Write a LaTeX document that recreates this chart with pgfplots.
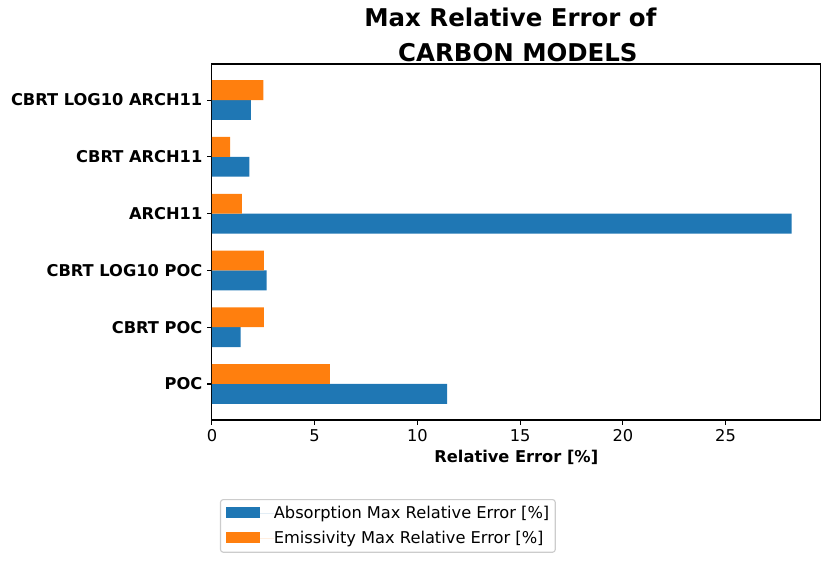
\documentclass[border=0pt]{standalone}
\usepackage{pgfplots}
\pgfplotsset{compat=1.18}
\usepackage{fontspec}
\setmainfont{DejaVu Sans}
\definecolor{tabblue}{HTML}{1F77B4}
\definecolor{taborange}{HTML}{FF7F0E}
\begin{document}
\begin{tikzpicture}
\useasboundingbox (-152.6pt,-102.2pt) rectangle (445.0pt,302.4pt);
\begin{axis}[
  at={(0pt,0pt)}, anchor=south west,
  scale only axis, width=438.3pt, height=256.3pt,
  xmin=0, xmax=29.63, ymin=-0.635, ymax=5.635,
  xbar, bar width=0.35,
  ytick={0,1,2,3,4,5},
  yticklabels={POC, CBRT POC, CBRT LOG10 POC, ARCH11, CBRT ARCH11, CBRT LOG10 ARCH11},
  xtick={0,5,10,15,20,25},
  tick align=outside, tick pos=left,
  major tick length=3.4pt,
  tick style={black, line width=0.8pt},
  axis line style={black, line width=0.8pt},
  /pgf/number format/assume math mode=true,
  xticklabel style={font=\fontsize{11.7}{14}\selectfont},
  yticklabel style={font=\fontsize{11.7}{14}\selectfont\bfseries},
  xlabel={Relative Error [\%]},
  xlabel style={at={(axis description cs:0.5,-0.1198)}, anchor=base, font=\fontsize{11.7}{14}\selectfont\bfseries},
  legend cell align=left,
  legend image code/.code={\fill[#1, draw=none, sharp corners] (0pt,-3.25pt) rectangle (24.5pt,4.65pt); \path (0pt,0pt) -- (34.1pt,0pt);},
  legend style={at={(0.01314,-0.2220)}, anchor=north west, draw=black!20, line width=0.8pt, rounded corners=2pt,
    inner xsep=4.3pt, inner ysep=5.1pt, row sep=7.87pt, column sep=0pt,
    font=\fontsize{11.7}{14}\selectfont,
    nodes={inner sep=0pt, text height=8.53pt, text depth=1.4pt}},
]
\addplot[fill=tabblue, draw=none, bar shift=-0.175] coordinates {(11.45,0) (1.40,1) (2.66,2) (28.22,3) (1.82,4) (1.90,5)};
\addplot[fill=taborange, draw=none, bar shift=0.175] coordinates {(5.74,0) (2.53,1) (2.53,2) (1.46,3) (0.89,4) (2.50,5)};
\legend{Absorption Max Relative Error [\%], Emissivity Max Relative Error [\%]}
\end{axis}
\node[anchor=base, font=\fontsize{17.6}{21}\selectfont\bfseries, inner sep=0pt] at (214.9pt,283.2pt) {Max Relative Error of};
\node[anchor=base, font=\fontsize{17.6}{21}\selectfont\bfseries, inner sep=0pt] at (220.3pt,258.1pt) {CARBON MODELS};
\end{tikzpicture}
\end{document}
